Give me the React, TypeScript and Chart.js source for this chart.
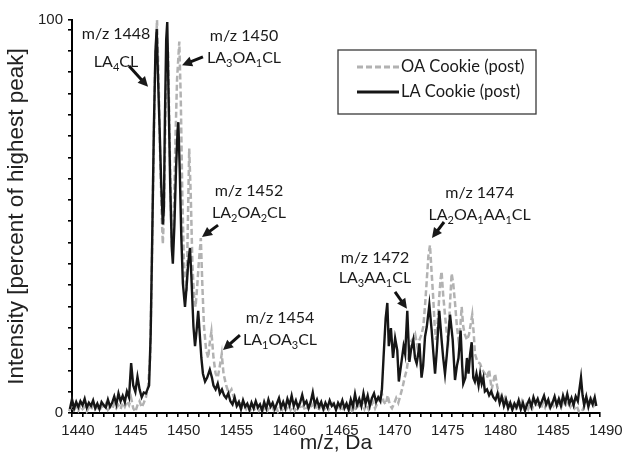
import React, { useEffect, useRef } from 'react';
import { Chart, registerables } from 'chart.js';

Chart.register(...registerables);

// ---------- data ----------
const seriesLabels = ['OA Cookie (post)', 'LA Cookie (post)'];

// LA Cookie (post) – solid black
const laMz = [
  1439.8, 1440.0, 1440.2, 1440.4, 1440.6, 1440.8, 1441.0, 1441.2, 1441.4, 1441.6,
  1441.8, 1442.0, 1442.2, 1442.4, 1442.6, 1442.8, 1443.0, 1443.2, 1443.4, 1443.6,
  1443.8, 1444.0, 1444.2, 1444.4, 1444.6, 1444.8, 1445.0, 1445.2, 1445.4, 1445.6,
  1445.8, 1446.0, 1446.2, 1446.4, 1446.6, 1446.8, 1447.0, 1447.15, 1447.3, 1447.45,
  1447.6, 1447.75, 1447.9, 1448.02, 1448.15, 1448.3, 1448.45, 1448.6, 1448.7, 1448.8,
  1448.92, 1449.02, 1449.15, 1449.3, 1449.45, 1449.55, 1449.7, 1449.85, 1450.0, 1450.07,
  1450.2, 1450.35, 1450.5, 1450.7, 1450.85, 1451.0, 1451.17, 1451.3, 1451.5, 1451.65,
  1451.8, 1451.95, 1452.1, 1452.25, 1452.4, 1452.6, 1452.8, 1453.05, 1453.25, 1453.4,
  1453.6, 1453.8, 1454.0, 1454.2, 1454.4, 1454.6, 1454.8, 1455.0, 1455.2, 1455.4,
  1455.6, 1455.8, 1456.0, 1456.2, 1456.4, 1456.6, 1456.8, 1457.0, 1457.2, 1457.4,
  1457.6, 1457.8, 1458.0, 1458.2, 1458.4, 1458.6, 1458.8, 1459.0, 1459.2, 1459.4,
  1459.6, 1459.8, 1460.0, 1460.2, 1460.4, 1460.6, 1460.8, 1461.0, 1461.2, 1461.4,
  1461.6, 1461.8, 1462.0, 1462.2, 1462.4, 1462.6, 1462.8, 1463.0, 1463.2, 1463.4,
  1463.6, 1463.8, 1464.0, 1464.2, 1464.4, 1464.6, 1464.8, 1465.0, 1465.2, 1465.4,
  1465.6, 1465.8, 1466.0, 1466.2, 1466.4, 1466.6, 1466.8, 1467.0, 1467.2, 1467.4,
  1467.6, 1467.8, 1468.0, 1468.2, 1468.4, 1468.6, 1468.8, 1469.0, 1469.2, 1469.35,
  1469.5, 1469.7, 1469.86, 1470.0, 1470.2, 1470.4, 1470.6, 1470.8, 1470.95, 1471.15,
  1471.4, 1471.55, 1471.75, 1471.95, 1472.1, 1472.32, 1472.48, 1472.64, 1472.78, 1472.9,
  1473.1, 1473.25, 1473.43, 1473.6, 1473.84, 1474.06, 1474.2, 1474.38, 1474.55, 1474.78,
  1474.9, 1475.0, 1475.15, 1475.32, 1475.5, 1475.65, 1475.8, 1476.05, 1476.27, 1476.45,
  1476.6, 1476.8, 1476.95, 1477.05, 1477.25, 1477.4, 1477.55, 1477.7, 1477.85, 1478.0,
  1478.15, 1478.3, 1478.5, 1478.65, 1478.8, 1478.95, 1479.1, 1479.3, 1479.5, 1479.7,
  1479.9, 1480.1, 1480.3, 1480.5, 1480.7, 1480.9, 1481.1, 1481.3, 1481.5, 1481.7,
  1481.9, 1482.1, 1482.3, 1482.5, 1482.7, 1482.9, 1483.1, 1483.3, 1483.5, 1483.7,
  1483.9, 1484.1, 1484.3, 1484.5, 1484.7, 1484.9, 1485.1, 1485.3, 1485.5, 1485.7,
  1485.9, 1486.1, 1486.3, 1486.5, 1486.7, 1486.9, 1487.1, 1487.3, 1487.5, 1487.7,
  1487.9, 1488.05, 1488.2, 1488.35, 1488.5, 1488.7, 1488.9, 1489.1, 1489.3, 1489.5,
  1489.65,
];
const laInt = [
  1.0, 3.5, 1.2, 2.8, 1.5, 3.0, 2.0, 3.6, 1.4, 2.6,
  1.8, 3.2, 1.2, 2.4, 1.0, 2.8, 2.0, 1.4, 3.4, 1.6,
  2.6, 4.2, 2.2, 5.0, 3.0, 4.4, 2.8, 5.5, 4.0, 12.7,
  7.0, 5.4, 9.2, 6.0, 4.0, 5.2, 5.0, 6.0, 7.0, 20,
  45, 72, 92, 97.7, 85, 72, 58, 48, 52, 75,
  95, 99.5, 80, 58, 42, 38, 48, 62, 72, 74,
  62, 45, 33, 27, 32, 38, 42, 35, 22, 17,
  21, 26, 20, 14, 10, 8, 9, 11, 9, 7,
  6, 7.5, 5, 6, 4.5, 3.8, 5.0, 3.0, 2.2, 4.0,
  1.8, 2.8, 1.0, 3.2, 1.6, 2.4, 0.8, 2.6, 1.2, 3.0,
  1.4, 2.2, 0.6, 2.8, 1.2, 3.4, 1.6, 2.6, 1.0, 2.4,
  3.8, 1.4, 2.8, 1.2, 3.6, 2.0, 4.4, 1.8, 3.2, 1.4,
  2.6, 4.6, 2.2, 3.0, 1.2, 2.8, 5.2, 2.0, 3.4, 1.6,
  2.8, 1.0, 2.6, 1.4, 3.2, 1.8, 2.4, 0.8, 2.6, 1.6,
  3.2, 1.2, 2.4, 0.8, 3.4, 1.6, 4.8, 2.0, 3.6, 1.8,
  5.0, 2.4, 4.4, 1.8, 3.8, 5.0, 2.8, 4.0, 3.0, 6,
  14, 24, 28, 17, 21.6, 14, 19, 16, 8, 12,
  17, 15, 26, 13, 16, 18.6, 14, 12.6, 15, 17.7,
  9, 12, 19.4, 22, 27.5, 21, 16, 10, 16, 26,
  22, 18.6, 14, 10, 15, 20, 25, 18.6, 8.4, 12,
  14, 21, 12, 7.5, 9, 14, 10, 15, 18, 9,
  8, 10, 7, 10, 7.5, 9, 5.5, 6, 4.5, 5.5,
  4, 3.3, 5, 2.5, 4.2, 1.8, 3.4, 1.2, 2.6, 0.8,
  2.4, 1.4, 3.2, 1.0, 2.6, 0.6, 2.2, 3.4, 1.6, 4.0,
  2.4, 3.6, 1.8, 3.0, 4.4, 2.2, 3.4, 1.4, 2.6, 4.2,
  2.0, 3.6, 1.8, 4.4, 2.6, 4.8, 2.4, 3.8, 2.0, 4.2,
  3.0, 6.0, 9.0, 4.5, 2.0, 4.2, 1.6, 3.6, 2.2, 4.0,
  1.8,
];

// OA Cookie (post) – grey dashed
const oaMz = [
  1439.7, 1440.0, 1440.2, 1440.4, 1440.6, 1440.8, 1441.0, 1441.2, 1441.4, 1441.6,
  1441.8, 1442.0, 1442.2, 1442.4, 1442.6, 1442.8, 1443.0, 1443.2, 1443.4, 1443.6,
  1443.8, 1444.0, 1444.2, 1444.4, 1444.6, 1444.8, 1445.0, 1445.2, 1445.4, 1445.6,
  1445.8, 1446.0, 1446.2, 1446.4, 1446.6, 1446.8, 1447.0, 1447.2, 1447.4, 1447.55,
  1447.7, 1447.85, 1448.05, 1448.2, 1448.35, 1448.5, 1448.6, 1448.7, 1448.85, 1449.0,
  1449.1, 1449.25, 1449.4, 1449.5, 1449.65, 1449.8, 1449.95, 1450.16, 1450.3, 1450.45,
  1450.6, 1450.86, 1450.95, 1451.1, 1451.25, 1451.4, 1451.55, 1451.7, 1451.85, 1452.0,
  1452.2, 1452.35, 1452.5, 1452.7, 1452.9, 1453.05, 1453.2, 1453.4, 1453.6, 1453.8,
  1454.0, 1454.18, 1454.35, 1454.6, 1454.85, 1455.1, 1455.3, 1455.5, 1455.7, 1455.9,
  1456.1, 1456.3, 1456.5, 1456.7, 1456.9, 1457.1, 1457.3, 1457.5, 1457.7, 1457.9,
  1458.1, 1458.3, 1458.5, 1458.7, 1458.9, 1459.1, 1459.3, 1459.5, 1459.7, 1459.9,
  1460.1, 1460.3, 1460.5, 1460.7, 1460.9, 1461.1, 1461.3, 1461.5, 1461.7, 1461.9,
  1462.1, 1462.3, 1462.5, 1462.7, 1462.9, 1463.1, 1463.3, 1463.5, 1463.7, 1463.9,
  1464.1, 1464.3, 1464.5, 1464.7, 1464.9, 1465.1, 1465.3, 1465.5, 1465.7, 1465.9,
  1466.1, 1466.3, 1466.5, 1466.7, 1466.9, 1467.1, 1467.3, 1467.5, 1467.7, 1467.9,
  1468.1, 1468.3, 1468.5, 1468.7, 1468.9, 1469.1, 1469.3, 1469.5, 1469.7, 1469.9,
  1470.1, 1470.3, 1470.5, 1470.7, 1470.9, 1471.1, 1471.3, 1471.5, 1471.7, 1471.9,
  1472.05, 1472.2, 1472.35, 1472.5, 1472.7, 1472.9, 1473.1, 1473.27, 1473.45, 1473.6,
  1473.75, 1473.9, 1474.05, 1474.2, 1474.35, 1474.47, 1474.6, 1474.78, 1474.9, 1475.0,
  1475.15, 1475.32, 1475.5, 1475.63, 1475.8, 1475.95, 1476.1, 1476.27, 1476.45, 1476.6,
  1476.75, 1476.9, 1477.05, 1477.2, 1477.4, 1477.6, 1477.9, 1478.05, 1478.16, 1478.4,
  1478.64, 1478.85, 1479.1, 1479.3, 1479.5, 1479.74, 1479.9, 1480.06, 1480.25, 1480.4,
  1480.6, 1480.8, 1481.0, 1481.2, 1481.4, 1481.6, 1481.8, 1482.0, 1482.2, 1482.4,
  1482.6, 1482.8, 1483.0, 1483.2, 1483.4, 1483.6, 1483.8, 1484.0, 1484.2, 1484.4,
  1484.6, 1484.8, 1485.0, 1485.2, 1485.4, 1485.6, 1485.8, 1486.0, 1486.2, 1486.4,
  1486.6, 1486.8, 1487.0, 1487.2, 1487.4, 1487.6, 1487.8, 1488.0, 1488.2, 1488.4,
  1488.6, 1488.8, 1489.0, 1489.2, 1489.4, 1489.6,
];
const oaInt = [
  0.5, 1.8, 0.8, 1.5, 0.6, 2.0, 1.0, 1.6, 0.4, 1.4,
  0.8, 2.0, 1.0, 1.6, 0.6, 1.8, 1.0, 2.2, 0.8, 1.6,
  1.0, 2.4, 1.2, 2.0, 1.0, 2.6, 1.6, 3.0, 2.0, 3.8,
  1.2, 0.3, 2.0, 3.0, 1.4, 2.6, 4.0, 6.7, 14, 35,
  62, 85, 100, 85, 65, 50, 43, 50, 75, 95,
  92, 68, 48, 40, 52, 70, 85, 94.5, 80, 55,
  38, 31, 45, 67.3, 55, 38, 30, 27, 32, 38,
  44.5, 32, 22, 16, 14, 18, 20.7, 14, 10, 9,
  12, 15, 10, 7, 5, 6, 4.2, 3.0, 2.0, 3.0,
  1.4, 2.2, 1.0, 1.8, 0.8, 2.0, 1.0, 1.6, 0.6, 1.4,
  0.8, 1.8, 0.6, 1.4, 2.0, 0.8, 1.6, 0.4, 1.4, 0.8,
  1.8, 1.0, 2.0, 0.8, 1.6, 0.6, 1.4, 2.2, 1.0, 1.8,
  0.6, 1.6, 0.8, 2.2, 1.0, 1.8, 0.6, 1.4, 2.4, 1.0,
  1.8, 0.8, 1.6, 2.4, 1.0, 1.8, 0.6, 1.4, 0.8, 2.0,
  1.0, 1.6, 0.6, 1.8, 0.8, 2.2, 1.2, 2.6, 1.0, 2.2,
  0.8, 1.6, 2.8, 1.2, 2.4, 3.6, 5.5, 3.0, 2.2, 4.5,
  2.0, 1.2, 2.4, 3.8, 2.6, 4.5, 6.5, 9, 11, 15,
  18, 18.6, 19, 20, 17, 18.6, 20, 22, 28, 34,
  40, 42.7, 36, 29.6, 22, 18.6, 22, 29.6, 34, 36,
  30, 25, 20, 18.6, 28, 35.5, 33, 28, 22, 18.6,
  21, 27, 22, 20, 18.6, 20, 25, 20, 15, 13,
  12.6, 11, 10, 9, 11, 6, 8, 10, 7, 5,
  4, 3.0, 4.0, 2.4, 3.2, 1.8, 2.8, 1.4, 2.6, 1.6,
  3.0, 1.2, 2.2, 1.0, 2.4, 1.2, 2.8, 1.4, 2.2, 1.0,
  2.6, 1.4, 2.8, 1.6, 3.0, 1.8, 2.8, 1.4, 3.2, 2.0,
  3.4, 2.2, 3.0, 1.6, 2.6, 1.2, 1.8, 0.4, 0.2, 1.0,
  2.4, 3.2, 2.0, 3.4, 1.8, 2.6,
];

// axis ticks
const xMin = 1440;
const xMax = 1490;
const xMinorStep = 1;
const xLabelEvery = 5;
const yMin = 0;
const yMax = 100;
const yLabelValues = [0, 100];
const yMinorStep = 5.42;

// peak annotations (positions in data units: m/z, intensity)
const annTexts = [
  ['m/z 1448', 'LA{4}CL'],
  ['m/z 1450', 'LA{3}OA{1}CL'],
  ['m/z 1452', 'LA{2}OA{2}CL'],
  ['m/z 1454', 'LA{1}OA{3}CL'],
  ['m/z 1472', 'LA{3}AA{1}CL'],
  ['m/z 1474', 'LA{2}OA{1}AA{1}CL'],
];
const annTextMz = [1444.17, 1456.29, 1456.76, 1459.7, 1468.69, 1478.6];
const annTextInt = [[96.7, 89.6], [96.2, 90.4], [56.7, 51.2], [24.4, 18.7], [39.7, 34.5], [56.2, 50.6]];
const annTail = [[1445.4, 88.3], [1452.4, 90.6], [1453.83, 47.8], [1455.9, 19.8], [1470.59, 30.8], [1475.23, 48.6]];
const annTip = [[1447.2, 83.0], [1450.42, 88.5], [1452.31, 44.8], [1454.3, 16.0], [1471.72, 26.5], [1474.09, 44.5]];

// ---------- styles ----------
const BLACK = '#161616';
const GREY = '#b2b2b2';
const AXIS_FONT = "'Liberation Sans', Arial, sans-serif";
const NOTE_FONT = "Lato, 'Noto Sans', sans-serif";

function parseRich(s: string) {
  const segs: { t: string; sub: boolean; w?: number }[] = [];
  const re = /\{([^}]*)\}/g;
  let last = 0;
  let m: RegExpExecArray | null;
  while ((m = re.exec(s))) {
    if (m.index > last) segs.push({ t: s.slice(last, m.index), sub: false });
    segs.push({ t: m[1], sub: true });
    last = m.index + m[0].length;
  }
  if (last < s.length) segs.push({ t: s.slice(last), sub: false });
  return segs;
}

function drawRich(ctx: CanvasRenderingContext2D, s: string, cx: number, cy: number, size: number) {
  const segs = parseRich(s);
  const main = `${size}px ${NOTE_FONT}`;
  const sub = `${Math.round(size * 0.68)}px ${NOTE_FONT}`;
  let w = 0;
  segs.forEach((sg) => {
    ctx.font = sg.sub ? sub : main;
    sg.w = ctx.measureText(sg.t).width;
    w += sg.w;
  });
  let x = cx - w / 2;
  ctx.textBaseline = 'alphabetic';
  ctx.textAlign = 'left';
  const base = cy + size * 0.36;
  segs.forEach((sg) => {
    ctx.font = sg.sub ? sub : main;
    ctx.fillText(sg.t, x, sg.sub ? base + size * 0.25 : base);
    x += sg.w || 0;
  });
}

function drawArrow(ctx: CanvasRenderingContext2D, x1: number, y1: number, x2: number, y2: number) {
  const a = Math.atan2(y2 - y1, x2 - x1);
  const hl = 10;
  const hw = 5;
  const c = Math.cos(a);
  const s = Math.sin(a);
  const bx = x2 - hl * c;
  const by = y2 - hl * s;
  ctx.beginPath();
  ctx.moveTo(x1, y1);
  ctx.lineTo(bx + c, by + s);
  ctx.lineWidth = 3;
  ctx.lineCap = 'butt';
  ctx.stroke();
  ctx.beginPath();
  ctx.moveTo(x2, y2);
  ctx.lineTo(bx + hw * s, by - hw * c);
  ctx.lineTo(bx - hw * s, by + hw * c);
  ctx.closePath();
  ctx.fill();
}

const annotationPlugin = {
  id: 'peakNotes',
  afterDatasetsDraw(chart: any) {
    const ctx: CanvasRenderingContext2D = chart.ctx;
    const xs = chart.scales.x;
    const ys = chart.scales.y;
    ctx.save();
    ctx.fillStyle = '#1a1a1a';
    ctx.strokeStyle = '#111';
    annTexts.forEach((lines, i) => {
      const cx = xs.getPixelForValue(annTextMz[i]);
      lines.forEach((ln, j) => {
        drawRich(ctx, ln, cx, ys.getPixelForValue(annTextInt[i][j]), 16);
      });
      drawArrow(
        ctx,
        xs.getPixelForValue(annTail[i][0]),
        ys.getPixelForValue(annTail[i][1]),
        xs.getPixelForValue(annTip[i][0]),
        ys.getPixelForValue(annTip[i][1])
      );
    });
    ctx.restore();
  },
};

const legendPlugin = {
  id: 'boxLegend',
  afterDraw(chart: any) {
    const ctx: CanvasRenderingContext2D = chart.ctx;
    const bx = 338;
    const by = 50;
    const bw = 198;
    const bh = 64;
    ctx.save();
    ctx.fillStyle = '#fff';
    ctx.fillRect(bx, by, bw, bh);
    ctx.strokeStyle = '#3a3a3a';
    ctx.lineWidth = 1.3;
    ctx.strokeRect(bx, by, bw, bh);
    const rows = [67, 92];
    chart.data.datasets.forEach((ds: any, i: number) => {
      const y = rows[i];
      ctx.beginPath();
      ctx.strokeStyle = ds.borderColor;
      ctx.lineWidth = 3;
      ctx.setLineDash(ds.borderDash || []);
      ctx.moveTo(357, y);
      ctx.lineTo(399, y);
      ctx.stroke();
      ctx.setLineDash([]);
      ctx.fillStyle = '#1a1a1a';
      ctx.font = `16.5px ${NOTE_FONT}`;
      ctx.textBaseline = 'middle';
      ctx.textAlign = 'left';
      ctx.fillText(ds.label, 401, y);
    });
    ctx.restore();
  },
};

export default function App() {
  const ref = useRef<HTMLCanvasElement | null>(null);

  useEffect(() => {
    const canvas = ref.current;
    if (!canvas) return;
    const laPoints = laMz.map((x, i) => ({ x, y: laInt[i] }));
    const oaPoints = oaMz.map((x, i) => ({ x, y: oaInt[i] }));

    const chart = new Chart(canvas, {
      type: 'line',
      data: {
        datasets: [
          {
            label: seriesLabels[0],
            data: oaPoints,
            borderColor: GREY,
            borderWidth: 2.5,
            borderDash: [6, 3],
            pointRadius: 0,
            tension: 0,
            fill: false,
            order: 2,
            clip: 4,
          },
          {
            label: seriesLabels[1],
            data: laPoints,
            borderColor: BLACK,
            borderWidth: 2.4,
            pointRadius: 0,
            tension: 0,
            fill: false,
            order: 1,
            clip: 4,
          },
        ],
      },
      options: {
        responsive: false,
        animation: false,
        devicePixelRatio: 1,
        events: [],
        layout: { padding: { top: 20, right: 22, left: 0, bottom: 0 } },
        plugins: {
          legend: { display: false },
          tooltip: { enabled: false },
        },
        scales: {
          x: {
            type: 'linear',
            min: xMin,
            max: xMax,
            afterFit: (s: any) => {
              s.height = 47;
            },
            ticks: {
              stepSize: xMinorStep,
              autoSkip: false,
              maxRotation: 0,
              minRotation: 0,
              labelOffset: 6,
              padding: 5,
              color: '#222',
              font: { family: AXIS_FONT, size: 15 },
              callback: (v: any) => (Number(v) % xLabelEvery === 0 ? String(v) : ''),
            },
            grid: {
              drawOnChartArea: false,
              drawTicks: true,
              tickLength: 4,
              color: '#000',
              lineWidth: 1.6,
            },
            border: { color: '#000', width: 2 },
            title: {
              display: true,
              text: 'm/z, Da',
              color: '#222',
              font: { family: AXIS_FONT, size: 21 },
              padding: { top: 0, bottom: 4 },
            },
          },
          y: {
            type: 'linear',
            min: yMin,
            max: yMax,
            afterFit: (s: any) => {
              s.width = 72;
            },
            afterBuildTicks: (s: any) => {
              const t: { value: number }[] = [];
              for (let v = yMin; v < yMax - 1; v += yMinorStep) t.push({ value: v });
              t.push({ value: yMax });
              s.ticks = t;
            },
            ticks: {
              autoSkip: false,
              padding: 5,
              color: '#222',
              font: { family: AXIS_FONT, size: 15 },
              callback: (v: any) => (yLabelValues.includes(Number(v)) ? String(v) : ''),
            },
            grid: {
              drawOnChartArea: false,
              drawTicks: true,
              tickLength: 4,
              color: '#000',
              lineWidth: 1.6,
            },
            border: { color: '#000', width: 2 },
            title: {
              display: true,
              text: 'Intensity [percent of highest peak]',
              color: '#222',
              font: { family: AXIS_FONT, size: 22.5 },
              padding: { top: 3, bottom: 0 },
            },
          },
        },
      },
      plugins: [annotationPlugin, legendPlugin],
    } as any);

    return () => chart.destroy();
  }, []);

  return (
    <div style={{ position: 'fixed', left: 0, top: 0, width: 622, height: 460, background: '#fff' }}>
      <canvas ref={ref} width={622} height={460} style={{ width: 622, height: 460, display: 'block' }} />
    </div>
  );
}
